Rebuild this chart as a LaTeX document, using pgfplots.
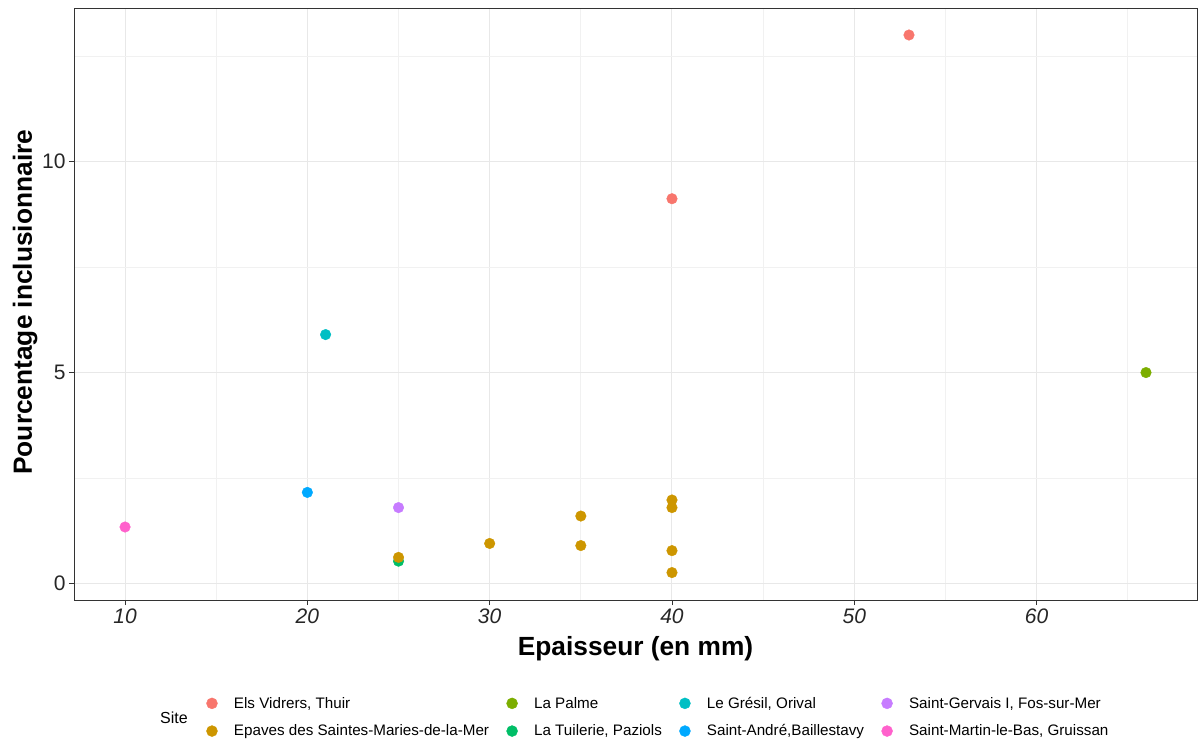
\documentclass[border=0pt]{standalone}
\usepackage{pgfplots}
\pgfplotsset{compat=1.18}
\usetikzlibrary{calc}
\usepackage{fontspec}
\setmainfont{Liberation Sans}
\definecolor{c1}{HTML}{F8766D}
\definecolor{c2}{HTML}{CD9600}
\definecolor{c3}{HTML}{7CAE00}
\definecolor{c4}{HTML}{00BE67}
\definecolor{c5}{HTML}{00BFC4}
\definecolor{c6}{HTML}{00A9FF}
\definecolor{c7}{HTML}{C77CFF}
\definecolor{c8}{HTML}{FF61CC}
\definecolor{gridmaj}{HTML}{E8E8E8}
\definecolor{gridmin}{HTML}{F1F1F1}
\definecolor{frame}{HTML}{333333}
\begin{document}
\begin{tikzpicture}
\begin{axis}[name=ax, scale only axis, width=1123pt, height=592pt,
  xmin=7.2, xmax=68.8, ymin=-0.39, ymax=13.64,
  xtick={10,20,...,60}, ytick={0,5,10},
  minor xtick={15,25,...,65}, minor ytick={2.5,7.5,12.5},
  grid=both,
  major grid style={color=gridmaj, line width=1pt},
  minor grid style={color=gridmin, line width=0.7pt},
  axis line style={color=frame, line width=0.9pt},
  tick align=outside, tick pos=left,
  major tick length=5pt, minor tick length=0pt,
  every tick/.style={color=frame, line width=0.9pt},
  /pgf/number format/assume math mode=true,
  yticklabel style={font=\fontsize{21}{24}\selectfont, color=black!85},
  xticklabel style={font=\fontsize{21}{24}\selectfont\itshape, color=black!85},
  xlabel={Epaisseur (en mm)}, ylabel={Pourcentage inclusionnaire},
  label style={font=\fontsize{26.3}{30}\selectfont\bfseries},
  xlabel style={at={(axis description cs:0.5,-0.0828)}, anchor=center},
  ylabel style={at={(axis description cs:-0.0436,0.503)}, anchor=center},
  legend style={at={(axis description cs:0.112,-0.198)}, anchor=west,
    draw=none, fill=none, font=\fontsize{15.2}{18}\selectfont,
    /tikz/every even column/.append style={column sep=12pt},
    row sep=11pt},
  legend columns=4, legend cell align=left,
  legend image code/.code={\path[draw=none,fill=none] (0pt,0pt) rectangle (29pt,0.1pt); \path[#1, draw=none] plot coordinates {(9pt,0pt)};},
]
\addplot[only marks, mark=*, mark size=5.3pt, color=c1, forget plot] coordinates {(53,13.0) (40,9.12)};
\addplot[only marks, mark=*, mark size=5.3pt, color=c3, forget plot] coordinates {(66,5.0)};
\addplot[only marks, mark=*, mark size=5.3pt, color=c4, forget plot] coordinates {(25,0.53)};
\addplot[only marks, mark=*, mark size=5.3pt, color=c2, forget plot] coordinates {(25,0.62) (30,0.95) (35,1.6) (35,0.9) (40,1.98) (40,1.8) (40,0.78) (40,0.26)};
\addplot[only marks, mark=*, mark size=5.3pt, color=c5, forget plot] coordinates {(21,5.9)};
\addplot[only marks, mark=*, mark size=5.3pt, color=c6, forget plot] coordinates {(20,2.16)};
\addplot[only marks, mark=*, mark size=5.3pt, color=c7, forget plot] coordinates {(25,1.8)};
\addplot[only marks, mark=*, mark size=5.3pt, color=c8, forget plot] coordinates {(10,1.34)};
\addlegendimage{only marks, mark=*, mark size=5.5pt, color=c1}\addlegendentry{Els Vidrers, Thuir}
\addlegendimage{only marks, mark=*, mark size=5.5pt, color=c3}\addlegendentry{La Palme}
\addlegendimage{only marks, mark=*, mark size=5.5pt, color=c5}\addlegendentry{Le Grésil, Orival}
\addlegendimage{only marks, mark=*, mark size=5.5pt, color=c7}\addlegendentry{Saint-Gervais I, Fos-sur-Mer}
\addlegendimage{only marks, mark=*, mark size=5.5pt, color=c2}\addlegendentry{Epaves des Saintes-Maries-de-la-Mer}
\addlegendimage{only marks, mark=*, mark size=5.5pt, color=c4}\addlegendentry{La Tuilerie, Paziols}
\addlegendimage{only marks, mark=*, mark size=5.5pt, color=c6}\addlegendentry{Saint-André,Baillestavy}
\addlegendimage{only marks, mark=*, mark size=5.5pt, color=c8}\addlegendentry{Saint-Martin-le-Bas, Gruissan}
\end{axis}
\node[anchor=center, font=\fontsize{16}{19}\selectfont] at ($(ax.south west)+(100pt,-118pt)$) {Site};
\path (ax.south west) ++(-74pt,-140pt) rectangle ++(1200pt,740pt);
\end{tikzpicture}
\end{document}
